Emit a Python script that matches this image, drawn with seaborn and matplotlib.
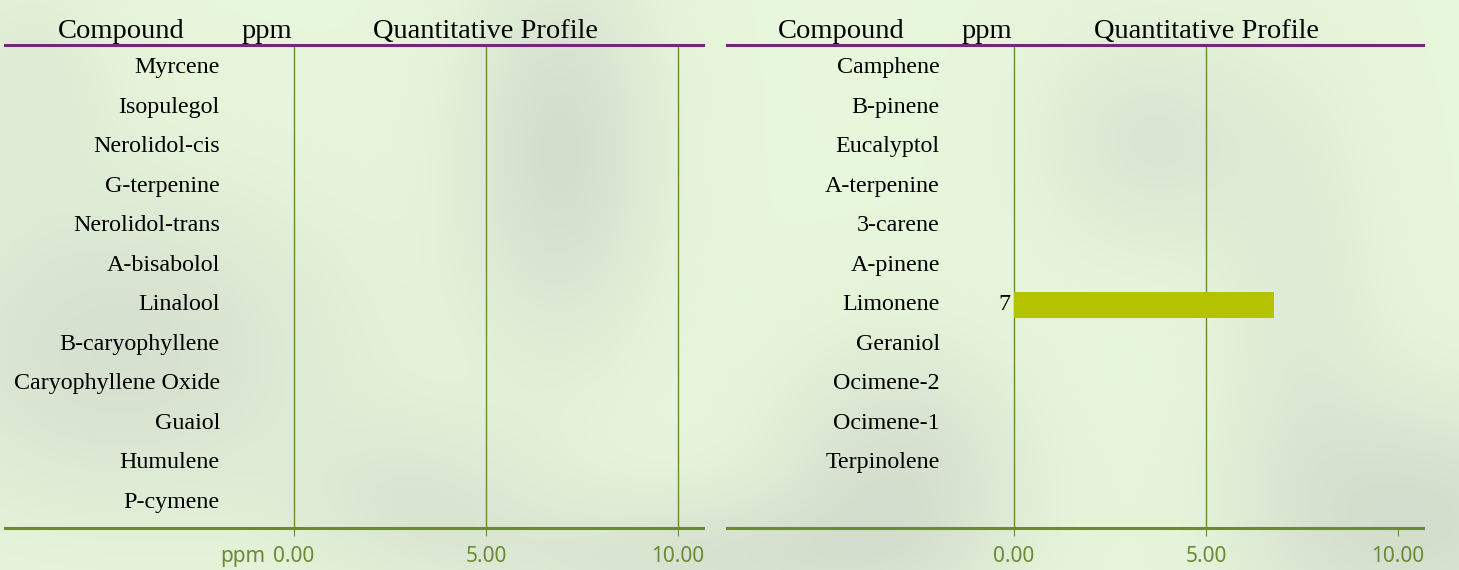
import matplotlib
matplotlib.use("Agg")
import matplotlib.pyplot as plt
import numpy as np
import seaborn as sns

# data
left_compounds = ["Myrcene", "Isopulegol", "Nerolidol-cis", "G-terpenine", "Nerolidol-trans",
                  "A-bisabolol", "Linalool", "B-caryophyllene", "Caryophyllene Oxide",
                  "Guaiol", "Humulene", "P-cymene"]
left_ppm = [0, 0, 0, 0, 0, 0, 0, 0, 0, 0, 0, 0]
right_compounds = ["Camphene", "B-pinene", "Eucalyptol", "A-terpenine", "3-carene", "A-pinene",
                   "Limonene", "Geraniol", "Ocimene-2", "Ocimene-1", "Terpinolene"]
right_ppm = [0, 0, 0, 0, 0, 0, 6.77, 0, 0, 0, 0]
xticks = [0, 5, 10]
left_xticklabels = ["0.00", "5.00", "10.00"]
right_xticklabels = ["0.00", "5.00", "10.00"]

green = "#6a8a35"
purple = "#74287a"
bar_color = "#b5c200"
serif = "Liberation Serif"
sans = "Noto Sans"

sns.set_style("white")
W, H = 1459, 570
fig = plt.figure(figsize=(W / 100, H / 100), dpi=100)

# soft leafy background
bg = fig.add_axes([0, 0, 1, 1], zorder=-1)
yy, xx = np.mgrid[0:H, 0:W]
shade = np.zeros((H, W))
blobs = [(120, 350, 160, 120, 0.8), (560, 150, 70, 140, 0.9), (900, 470, 90, 90, 0.8),
         (1150, 140, 80, 80, 0.6), (1420, 520, 120, 90, 0.9), (700, 560, 160, 50, 0.7),
         (420, 500, 90, 60, 0.5), (1300, 300, 60, 160, 0.4), (30, 80, 60, 80, 0.4)]
for cx, cy, sx, sy, s in blobs:
    shade += s * np.exp(-((xx - cx) ** 2 / (2 * sx ** 2) + (yy - cy) ** 2 / (2 * sy ** 2)))
shade = np.clip(shade, 0, 1)[..., None]
light = np.array([0.91, 0.97, 0.86])
dark = np.array([0.82, 0.86, 0.80])
img = light * (1 - shade) + dark * shade
bg.imshow(img, aspect="auto", extent=[0, 1, 0, 1])
bg.axis("off")

px_unit = 38.4  # pixels per ppm


def panel(x0, x1, zero_px, names, vals, ticklabels, grid_vals, ppm_label):
    ax = fig.add_axes([x0 / W, 1 - 528 / H, (x1 - x0) / W, (528 - 45) / H])
    ax.set_facecolor("none")
    sns.barplot(x=vals, y=names, orient="h", color=bar_color, width=0.68,
                linewidth=0, saturation=1, ax=ax)
    ax.set_xlim((x0 - zero_px) / px_unit, (x1 - zero_px) / px_unit)
    ax.set_ylim(11.646, -0.582)
    ax.set_yticks([])
    ax.set_ylabel("")
    for g in grid_vals:
        ax.axvline(g, color=green, lw=1, zorder=0)
    for i, (name, v) in enumerate(zip(names, vals)):
        ax.text(-1.93, i, name, ha="right", va="center", family=serif, fontsize=17.3, color="black")
        if v:
            ax.text(-0.1, i, f"{v:.0f}", ha="right", va="center", family=serif,
                    fontsize=17.3, color="black")
    ax.set_xticks(xticks)
    ax.set_xticklabels(ticklabels, family=sans, fontsize=15, color=green)
    ax.tick_params(axis="x", direction="out", length=5.8, width=0.8, color=green, pad=7.5, bottom=True)
    for s in ["left", "right"]:
        ax.spines[s].set_visible(False)
    ax.spines["bottom"].set_color(green)
    ax.spines["bottom"].set_linewidth(2.2)
    ax.spines["top"].set_color(purple)
    ax.spines["top"].set_linewidth(2.2)
    # header texts
    tr = ax.get_xaxis_transform()
    for xpos, txt in [(-4.5, "Compound"), (-0.7, "ppm"), (5.0, "Quantitative Profile")]:
        ax.text(xpos, 1.003, txt, transform=tr, ha="center", va="bottom",
                family=serif, fontsize=20.5, color="black")
    if ppm_label:
        ax.annotate("ppm", xy=(-1.33, 0), xycoords=tr, xytext=(0, -13.3),
                    textcoords="offset points", ha="center", va="top",
                    family=sans, fontsize=15, color=green)
    return ax


panel(5, 703, 294, left_compounds, left_ppm, left_xticklabels, [0, 5, 10], True)
panel(727, 1423, 1014, right_compounds, right_ppm, right_xticklabels, [0, 5], False)

fig.savefig("out.png", dpi=100)
